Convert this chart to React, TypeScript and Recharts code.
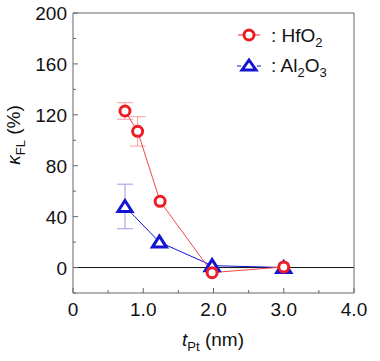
import { ComposedChart, Line, XAxis, YAxis, ErrorBar, ReferenceLine, Label, Legend } from 'recharts'

// HfO2 series
const hfX = [0.74, 0.92, 1.24, 1.98, 3.0]
const hfY = [123, 107, 52, -4, 0.5]
const hfErr = [6.5, 11.5, 0, 0, 0]

// Al2O3 series
const alX = [0.74, 1.23, 1.98, 3.0]
const alY = [48, 20, 1.5, 0]
const alErr = [17.5, 0, 0, 0]

const xTicks = [0, 0.5, 1, 1.5, 2, 2.5, 3, 3.5, 4]
const yTicks = [-20, 0, 20, 40, 60, 80, 100, 120, 140, 160, 180, 200]

const RED = '#ee1c24'
const BLUE = '#1414d2'
const FRAME = '#666'
const FONT = '"Liberation Sans", Arial, sans-serif'

const hfData = hfX.map((x, i) => ({ x, y: hfY[i], err: hfErr[i] || undefined }))
const alData = alX.map((x, i) => ({ x, y: alY[i], err: alErr[i] || undefined }))

const isMajorX = (v: number) => Number.isInteger(v)
const isMajorY = (v: number) => v % 40 === 0

function BottomTick({ x, y, payload }: any) {
  const major = isMajorX(payload.value)
  return (
    <g>
      <line x1={x} y1={y} x2={x} y2={y - (major ? 5 : 3)} stroke={FRAME} />
      {major && (
        <text x={x} y={y + 23} textAnchor="middle" fontSize={19} fontFamily={FONT} fill="#111">
          {payload.value === 0 ? '0' : payload.value.toFixed(1)}
        </text>
      )}
    </g>
  )
}

function TopTick({ x, y, payload }: any) {
  const major = isMajorX(payload.value)
  return <line x1={x} y1={y} x2={x} y2={y + (major ? 5 : 3)} stroke={FRAME} />
}

function LeftTick({ x, y, payload }: any) {
  const major = isMajorY(payload.value)
  return (
    <g>
      <line x1={x} y1={y} x2={x + (major ? 5 : 3)} y2={y} stroke={FRAME} />
      {major && payload.value >= 0 && (
        <text x={x - 6} y={y + 7} textAnchor="end" fontSize={19} fontFamily={FONT} fill="#111">
          {payload.value}
        </text>
      )}
    </g>
  )
}

function RightTick({ x, y, payload }: any) {
  const major = isMajorY(payload.value)
  return <line x1={x} y1={y} x2={x - (major ? 5 : 3)} y2={y} stroke={FRAME} />
}

function CircleDot({ cx, cy }: any) {
  return <circle cx={cx} cy={cy} r={5} fill="#fff" stroke={RED} strokeWidth={3} />
}

function TriangleDot({ cx, cy }: any) {
  return (
    <path
      d={`M${cx},${cy - 6} L${cx + 7},${cy + 5} L${cx - 7},${cy + 5} Z`}
      fill="#fff"
      stroke={BLUE}
      strokeWidth={3}
    />
  )
}

function LegendBox() {
  return (
    <svg width={130} height={70} style={{ display: 'block' }}>
      <line x1={13} y1={20} x2={18} y2={20} stroke={RED} />
      <line x1={30} y1={20} x2={35} y2={20} stroke={RED} />
      <circle cx={24} cy={20} r={5} fill="#fff" stroke={RED} strokeWidth={3} />
      <text x={46} y={27} fontSize={19} fontFamily={FONT} fill="#111">
        : HfO<tspan dy={5} fontSize={13}>2</tspan>
      </text>
      <line x1={12} y1={51} x2={16} y2={51} stroke={BLUE} />
      <line x1={32} y1={51} x2={36} y2={51} stroke={BLUE} />
      <path d="M24,45 L31,55 L17,55 Z" fill="#fff" stroke={BLUE} strokeWidth={3} />
      <text x={46} y={57} fontSize={19} fontFamily={FONT} fill="#111">
        : Al<tspan dy={5} fontSize={13}>2</tspan>
        <tspan dy={-5}>O</tspan>
        <tspan dy={5} fontSize={13}>3</tspan>
      </text>
    </svg>
  )
}

function YTitle() {
  return (
    <text transform="translate(20,135) rotate(-90)" textAnchor="middle" fontSize={19} fontFamily={FONT} fill="#111">
      <tspan fontStyle="italic">κ</tspan>
      <tspan dy={5} fontSize={13}>FL</tspan>
      <tspan dy={-5}> (%)</tspan>
    </text>
  )
}

function XTitle() {
  return (
    <text x={213} y={346} textAnchor="middle" fontSize={19} fontFamily={FONT} fill="#111">
      <tspan fontStyle="italic">t</tspan>
      <tspan dy={5} fontSize={13}>Pt</tspan>
      <tspan dy={-5}> (nm)</tspan>
    </text>
  )
}

export default function App() {
  return (
    <div style={{ position: 'absolute', left: 0, top: 0, background: '#fff' }}>
      <ComposedChart width={380} height={361} margin={{ top: 12, right: 25, bottom: 67, left: 72 }}>
        <XAxis
          xAxisId="b"
          type="number"
          dataKey="x"
          domain={[0, 4]}
          ticks={xTicks}
          interval={0}
          height={1}
          tickSize={0}
          tickMargin={0}
          tickLine={false}
          axisLine={{ stroke: FRAME }}
          tick={<BottomTick />}
        >
          <Label content={<XTitle />} />
        </XAxis>
        <XAxis
          xAxisId="t"
          orientation="top"
          type="number"
          dataKey="x"
          domain={[0, 4]}
          ticks={xTicks}
          interval={0}
          height={1}
          tickSize={0}
          tickMargin={0}
          tickLine={false}
          axisLine={{ stroke: FRAME }}
          tick={<TopTick />}
        />
        <YAxis
          yAxisId="l"
          type="number"
          domain={[-20, 200]}
          ticks={yTicks}
          interval={0}
          width={1}
          tickSize={0}
          tickMargin={0}
          tickLine={false}
          axisLine={{ stroke: FRAME }}
          tick={<LeftTick />}
        >
          <Label content={<YTitle />} />
        </YAxis>
        <YAxis
          yAxisId="r"
          orientation="right"
          type="number"
          domain={[-20, 200]}
          ticks={yTicks}
          interval={0}
          width={1}
          tickSize={0}
          tickMargin={0}
          tickLine={false}
          axisLine={{ stroke: FRAME }}
          tick={<RightTick />}
        />
        <ReferenceLine xAxisId="b" yAxisId="l" y={0} stroke="#111" strokeWidth={1} />
        {/* error bars first, so the markers sit on top of them */}
        <Line xAxisId="b" yAxisId="l" data={alData} dataKey="y" stroke="none" dot={false} activeDot={false} legendType="none" isAnimationActive={false}>
          <ErrorBar dataKey="err" direction="y" width={8} stroke="#9a9ae6" strokeWidth={1} />
        </Line>
        <Line xAxisId="b" yAxisId="l" data={hfData} dataKey="y" stroke="none" dot={false} activeDot={false} legendType="none" isAnimationActive={false}>
          <ErrorBar dataKey="err" direction="y" width={8} stroke="#f4a0a0" strokeWidth={1} />
        </Line>
        <Line
          xAxisId="b"
          yAxisId="l"
          data={alData}
          dataKey="y"
          stroke={BLUE}
          strokeWidth={1}
          dot={<TriangleDot />}
          activeDot={false}
          isAnimationActive={false}
        />
        <Line
          xAxisId="b"
          yAxisId="l"
          data={hfData}
          dataKey="y"
          stroke="#f04848"
          strokeWidth={1}
          dot={<CircleDot />}
          activeDot={false}
          isAnimationActive={false}
        />
        <Legend
          layout="vertical"
          align="center"
          verticalAlign="middle"
          content={<LegendBox />}
          wrapperStyle={{ position: 'absolute', left: 225, top: 15, width: 130 }}
        />
      </ComposedChart>
    </div>
  )
}
